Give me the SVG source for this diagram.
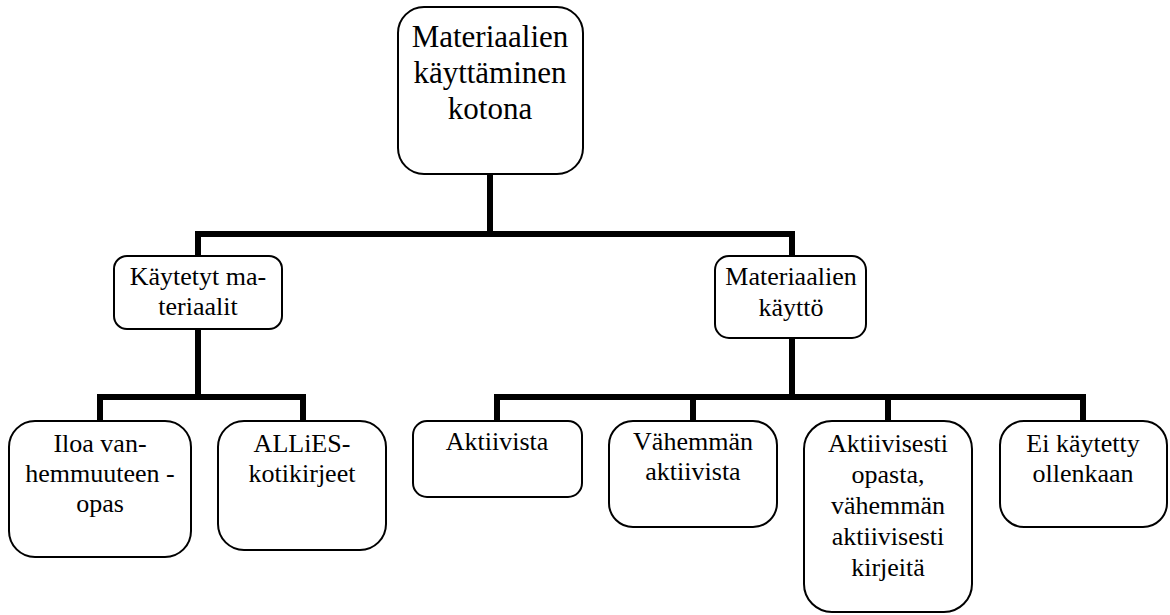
<svg xmlns="http://www.w3.org/2000/svg" width="1170" height="615" viewBox="0 0 1170 615">
<style>
.box{fill:#fff;stroke:#000;stroke-width:2}
text{font-family:'Liberation Serif',Tinos,Times,serif;fill:#000;text-anchor:middle}
.t1{font-size:31px}
.t2{font-size:26px}
.c{fill:none;stroke:#000;stroke-width:6;stroke-linejoin:miter;stroke-linecap:square}
</style>
<rect width="1170" height="615" fill="#fff"/>
<g id="connectors">
<path class="c" d="M490,175 V234 M198,256 V234 H792 V256"/>
<path class="c" d="M198,329 V397 M100,421 V397 H303 V421"/>
<path class="c" d="M792,338 V397 M497,421 V397 H1083 V421 M693,397 V421 M888,397 V421"/>
</g>
<g id="root">
<rect class="box" x="398" y="7" width="185" height="167" rx="26"/>
<text class="t1" x="490" y="47">Materiaalien</text>
<text class="t1" x="490" y="83">käyttäminen</text>
<text class="t1" x="490" y="119">kotona</text>
</g>
<g id="kaytetyt">
<rect class="box" x="114" y="256" width="168" height="73" rx="13"/>
<text class="t2" x="198" y="285">Käytetyt ma-</text>
<text class="t2" x="198" y="315">teriaalit</text>
</g>
<g id="kaytto">
<rect class="box" x="715" y="256" width="151" height="82" rx="14"/>
<text class="t2" x="791" y="285">Materiaalien</text>
<text class="t2" x="791" y="316">käyttö</text>
</g>
<g id="iloa">
<rect class="box" x="9" y="421" width="182" height="136" rx="26"/>
<text class="t2" x="100" y="452">Iloa van-</text>
<text class="t2" x="100" y="482">hemmuuteen -</text>
<text class="t2" x="100" y="512">opas</text>
</g>
<g id="allies">
<rect class="box" x="218" y="421" width="168" height="129" rx="26"/>
<text class="t2" x="302" y="452">ALLiES-</text>
<text class="t2" x="302" y="482">kotikirjeet</text>
</g>
<g id="aktiivista">
<rect class="box" x="413" y="421" width="169" height="76" rx="14"/>
<text class="t2" x="497" y="450">Aktiivista</text>
</g>
<g id="vahemman">
<rect class="box" x="609" y="421" width="168" height="106" rx="24"/>
<text class="t2" x="693" y="450">Vähemmän</text>
<text class="t2" x="693" y="480">aktiivista</text>
</g>
<g id="aktiivisesti">
<rect class="box" x="804" y="421" width="168" height="191" rx="28"/>
<text class="t2" x="888" y="452">Aktiivisesti</text>
<text class="t2" x="888" y="483">opasta,</text>
<text class="t2" x="888" y="514">vähemmän</text>
<text class="t2" x="888" y="545">aktiivisesti</text>
<text class="t2" x="888" y="576">kirjeitä</text>
</g>
<g id="ei">
<rect class="box" x="1000" y="421" width="167" height="106" rx="24"/>
<text class="t2" x="1083" y="452">Ei käytetty</text>
<text class="t2" x="1083" y="482">ollenkaan</text>
</g>
</svg>
